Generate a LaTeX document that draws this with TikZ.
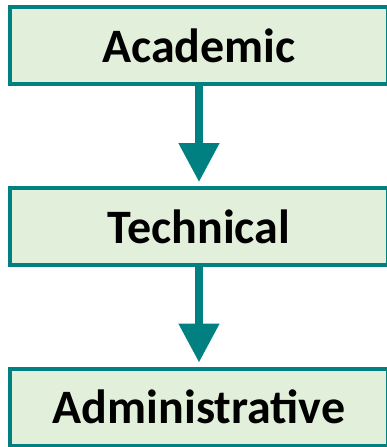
\documentclass[tikz,border=0pt]{standalone}
\usepackage{fontspec}
\setmainfont{Carlito}
\usepackage{tikz}
\usetikzlibrary{arrows.meta,positioning}
\definecolor{boxfill}{HTML}{E2EFDA}
\definecolor{boxline}{HTML}{008080}
\tikzstyle{level}=[rectangle, draw=boxline, fill=boxfill,
                   line width=4pt, minimum width=378pt,
                   minimum height=77pt, inner sep=0pt,
                   font=\fontsize{48}{50}\selectfont\bfseries]
\tikzstyle{flow} =[draw=boxline, line width=8pt, shorten >=4pt,
                   -{Triangle[length=39pt, width=39pt]}]

\begin{document}
\begin{tikzpicture}[x=1pt, y=-1pt, node distance=181pt, on grid]
    \useasboundingbox (0,0) rectangle (387,447);
    \node (acad) [level] at (199,45.5) {Academic};
    \node (tech) [level, below=of acad] {Technical};
    \node (admin) [level, below=180.5pt of tech] {Administrative};
    \draw[flow] (acad) to (tech);
    \draw[flow] (tech) to (admin);
\end{tikzpicture}
\end{document}
